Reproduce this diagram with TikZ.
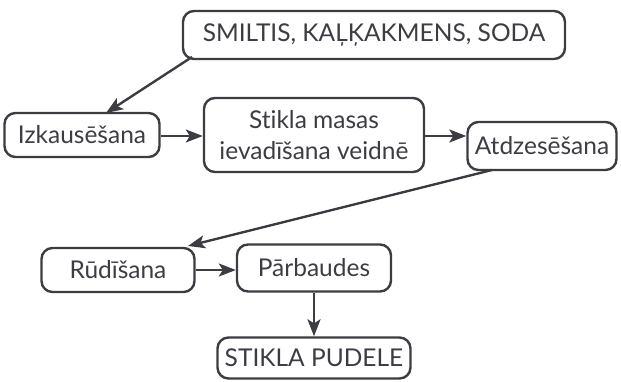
\documentclass[tikz,border=0pt]{standalone}
\usepackage{fontspec}
\setmainfont[Ligatures={NoCommon,NoRequired}]{Lato}
\usetikzlibrary{arrows.meta}
\definecolor{ink}{HTML}{3C3C42}
\begin{document}
\begin{tikzpicture}[x=1pt,y=-1pt,
  box/.style={draw=ink,line width=2.4pt,rounded corners=11pt,text=ink,font=\fontsize{24.5}{31}\selectfont,align=center,inner sep=0pt},
  conn/.style={draw=ink,line width=2.4pt,-{Stealth[length=17pt,width=13pt,inset=4pt]}}]
\useasboundingbox (0,0) rectangle (621,382);
\node[box,minimum width=382pt,minimum height=48pt] (src) at (374,35) {SMILTIS, KAĻĶAKMENS, SODA};
\node[box,minimum width=155pt,minimum height=44pt] (izk) at (82,135) {Izkausēšana};
\node[box,minimum width=220pt,minimum height=74pt] (sti) at (314,135) {Stikla masas\\ievadīšana veidnē};
\node[box,minimum width=149pt,minimum height=48pt] (atd) at (542,146) {Atdzesēšana};
\node[box,minimum width=153pt,minimum height=44pt] (rud) at (118,270) {Rūdīšana};
\node[box,minimum width=154pt,minimum height=47pt] (par) at (314,268) {Pārbaudes};
\node[box,minimum width=193pt,minimum height=41pt] (pud) at (314,358) {STIKLA PUDELE};
\coordinate (a1) at (192,57);
\coordinate (a2) at (106,113);
\draw[conn] (a1) -- (a2);
\draw[conn] (izk.east |- 0,136) -- (sti.west |- 0,136);
\draw[conn] (sti.east |- 0,136) -- (atd.west |- 0,136);
\coordinate (b1) at (492,170);
\coordinate (b2) at (188,246);
\draw[conn] (b1) -- (b2);
\draw[conn] (rud.east |- 0,270) -- (par.west |- 0,270);
\draw[conn] (par.south) -- (pud.north);
\end{tikzpicture}
\end{document}
